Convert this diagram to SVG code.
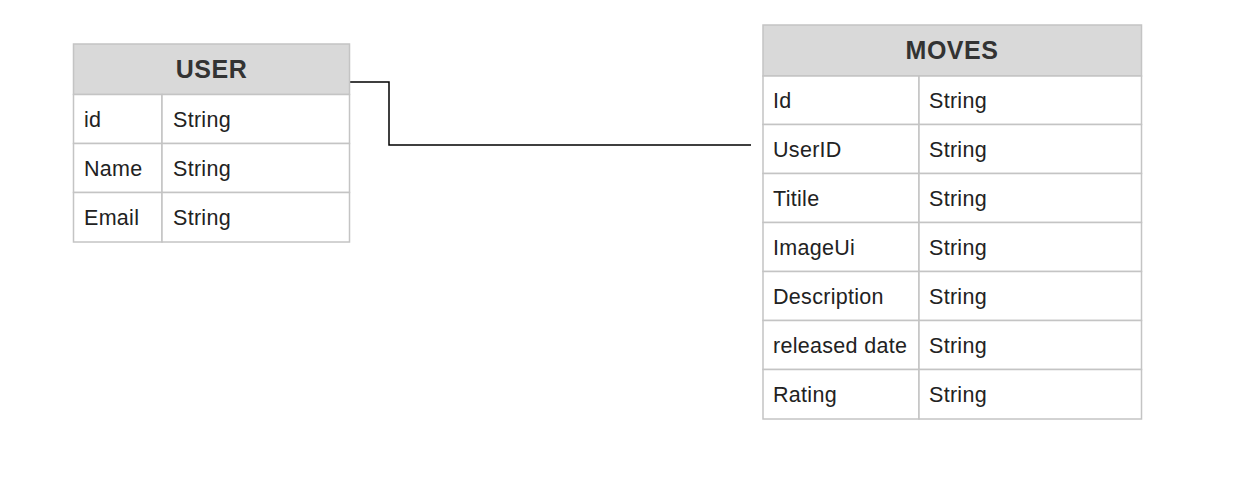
<svg xmlns="http://www.w3.org/2000/svg" width="1248" height="486" viewBox="0 0 1248 486">
<style>
.hdr{fill:#d9d9d9;stroke:#c4c4c4;stroke-width:1.5}
.cell{fill:#ffffff;stroke:#c4c4c4;stroke-width:1.5}
.title{font-family:"Liberation Sans",Arial,sans-serif;font-weight:bold;font-size:25px;fill:#333333;text-anchor:middle;letter-spacing:0.5px}
.f{font-family:"Liberation Sans",Arial,sans-serif;font-size:21.5px;fill:#222222;letter-spacing:0.3px}
.conn{fill:none;stroke:#000000;stroke-width:1.5}
</style>
<rect width="1248" height="486" fill="#ffffff"/>
<g id="connectors">
<path class="conn" d="M350,82 H389 V145 H751"/>
</g>
<g id="user">
<rect class="hdr" x="73.5" y="44" width="276" height="50.5"/>
<rect class="cell" x="73.5" y="94.5" width="88.5" height="49"/>
<rect class="cell" x="162" y="94.5" width="187.5" height="49"/>
<rect class="cell" x="73.5" y="143.5" width="88.5" height="49"/>
<rect class="cell" x="162" y="143.5" width="187.5" height="49"/>
<rect class="cell" x="73.5" y="192.5" width="88.5" height="49.5"/>
<rect class="cell" x="162" y="192.5" width="187.5" height="49.5"/>
<text class="title" x="211.5" y="78">USER</text>
<text class="f" x="84" y="126.5">id</text>
<text class="f" x="173" y="126.5">String</text>
<text class="f" x="84" y="175.5">Name</text>
<text class="f" x="173" y="175.5">String</text>
<text class="f" x="84" y="224.5">Email</text>
<text class="f" x="173" y="224.5">String</text>
</g>
<g id="moves">
<rect class="hdr" x="763" y="25" width="378.5" height="51"/>
<rect class="cell" x="763" y="76" width="156" height="48.5"/>
<rect class="cell" x="919" y="76" width="222.5" height="48.5"/>
<rect class="cell" x="763" y="124.5" width="156" height="49"/>
<rect class="cell" x="919" y="124.5" width="222.5" height="49"/>
<rect class="cell" x="763" y="173.5" width="156" height="49"/>
<rect class="cell" x="919" y="173.5" width="222.5" height="49"/>
<rect class="cell" x="763" y="222.5" width="156" height="49"/>
<rect class="cell" x="919" y="222.5" width="222.5" height="49"/>
<rect class="cell" x="763" y="271.5" width="156" height="49"/>
<rect class="cell" x="919" y="271.5" width="222.5" height="49"/>
<rect class="cell" x="763" y="320.5" width="156" height="49"/>
<rect class="cell" x="919" y="320.5" width="222.5" height="49"/>
<rect class="cell" x="763" y="369.5" width="156" height="49.5"/>
<rect class="cell" x="919" y="369.5" width="222.5" height="49.5"/>
<text class="title" x="952" y="59">MOVES</text>
<text class="f" x="773" y="107.5">Id</text>
<text class="f" x="929" y="107.5">String</text>
<text class="f" x="773" y="156.5">UserID</text>
<text class="f" x="929" y="156.5">String</text>
<text class="f" x="773" y="205.5">Titile</text>
<text class="f" x="929" y="205.5">String</text>
<text class="f" x="773" y="254.5">ImageUi</text>
<text class="f" x="929" y="254.5">String</text>
<text class="f" x="773" y="303.5">Description</text>
<text class="f" x="929" y="303.5">String</text>
<text class="f" x="773" y="352.5">released date</text>
<text class="f" x="929" y="352.5">String</text>
<text class="f" x="773" y="401.5">Rating</text>
<text class="f" x="929" y="401.5">String</text>
</g>
</svg>
